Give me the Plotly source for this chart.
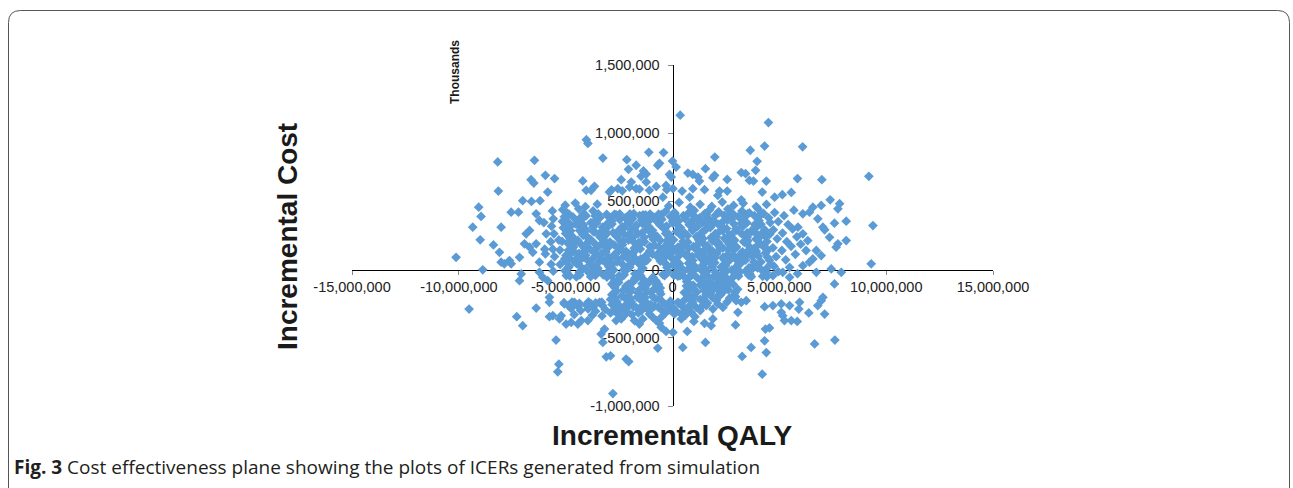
import plotly.graph_objects as go

# ---------------- data ----------------
# each point: (incremental QALY in millions, incremental cost in millions = axis value in thousands / 1000)
outliers_top = [(0.36,1132),(4.49,1078),(-4.03,952),(-3.96,925),(6.09,900),(4.31,906),(3.64,875),(-0.42,858),
    (-1.11,860),(-3.26,818),(-2.14,806),(1.98,825),(-8.18,789),(-6.46,801),(0.0,796),(3.96,794),(-0.61,779),
    (-1.7,765),(-0.69,765),(0.17,752),(1.54,740),(-2.06,735),(-1.36,723),(-1.23,700),(3.89,728),(3.22,711),
    (3.42,703),(0.72,708),(0.95,698),(-0.14,698),(-0.06,678),(1.19,678),(1.97,691),(1.89,674),(-1.47,684),
    (-5.95,691),(9.19,684),(-5.52,667),(-6.62,659),(-6.49,634),(5.85,667),(6.99,659),(2.56,661),(-2.4,659),
    (3.6,654),(3.79,649),(4.39,649),(1.26,649),(-4.2,650),(-1.93,642),(-1.23,642),(-0.3,617),(-3.65,611),
    (-2.01,605),(-0.76,610),(-2.56,593),(-1.7,593),(-0.27,586),(0.02,593),(0.95,593),(1.5,586),(-4.04,581),
    (-3.81,581),(-1.08,581),(-8.15,576),(0.45,576),(2.2,576),(2.56,576),(-2.95,568),(-5.84,568),(4.2,568),
    (5.56,566),(5.14,549),(2.12,544),(4.78,531),(0.8,531),(-0.45,531),(7.38,512),(3.22,512),(-7.01,505),
    (-2.85,585),(-2.35,578),(-1.55,590)]

left_wing = [(-9.07,458),(-8.96,390),(-9.35,311),(-9.0,218),(-10.13,90),(-8.88,-2),(-8.38,181),(-8.02,311),
    (-8.1,127),(-8.02,54),(-7.87,42),(-7.63,66),(-7.55,42),(-7.55,421),(-7.21,421),(-7.16,90),(-7.08,-32),
    (-7.16,-81),(-6.85,262),(-6.69,287),(-6.38,409),(-6.23,360),(-5.91,262),(-6.38,189),(-6.23,54),(-6.54,127),
    (-6.93,189),(-6.69,164),(-6.23,-20),(-6.07,-57),(-5.84,-81),(-5.76,-203),(-5.95,115),(-6.6,500),(-6.2,505),
    (-9.52,-289),(-7.29,-345),(-7.01,-411),(-6.38,-282),(-5.76,-240),(-5.76,-345)]

right_wing = [(6.96,470),(7.82,483),(7.74,446),(8.13,355),(9.38,323),(9.3,42),(6.8,372),(7.04,311),(7.12,292),
    (7.58,340),(7.35,237),(7.74,189),(7.66,164),(8.13,213),(6.1,409),(6.41,421),(6.57,458),(5.87,311),(6.1,262),
    (6.33,213),(6.73,140),(6.96,103),(6.57,78),(7.43,5),(7.9,-20),(7.58,-105),(7.04,-203),(6.73,-20),(5.48,17),
    (5.48,-57),(5.16,-20),(6.1,29),(6.41,54),
    (4.7,-264),(5.09,-252),(5.48,-264),(5.09,-313),(5.16,-338),(5.95,-240),(5.91,-289),(6.38,-318),(6.8,-264),
    (7.12,-326),(5.24,-374),(5.56,-374),(5.84,-380),(6.65,-545),(7.6,-517),(4.54,-428),(6.96,-228)]

lower_band = [(-5.45,-517),(-5.32,-693),(-5.37,-749),(-2.79,-909),(-3.1,-639),(-2.9,-632),(-2.17,-656),
    (-2.05,-674),(-3.26,-534),(-3.34,-473),(-3.18,-436),(-5.21,-338),(-5.29,-362),(-4.98,-399),(-4.74,-387),
    (-4.43,-399),(-4.27,-374),(-3.96,-374),(-5.6,-338),(-5.06,-252),(-4.59,-240),(-3.81,-252),(-3.42,-240),
    (-2.64,-277),(-2.4,-289),(-2.01,-264),(-1.7,-277),(-1.23,-252),(-1.08,-301),(-0.92,-350),(-2.56,-326),
    (-2.4,-362),(-2.64,-374),(-1.78,-374),(-1.55,-399),(-1.39,-362),(-1.08,-326),(-0.76,-374),(-0.69,-575),
    (0.02,-277),(-0.14,-264),(0.09,-326),(0.41,-326),(0.41,-362),(0.8,-264),(1.11,-277),(0.87,-313),(1.0,-380),
    (1.58,-264),(1.89,-289),(2.36,-277),(2.12,-252),(1.5,-394),(1.81,-411),(1.89,-362),(3.06,-313),(2.95,-406),
    (-0.61,-394),(-0.53,-423),(-0.3,-453),(0.02,-460),(0.69,-453),(0.48,-571),(1.54,-534),(3.26,-637),
    (3.68,-571),(4.2,-767),(4.31,-522),(4.39,-608),(4.35,-436),(3.22,-240),(3.45,-228),(2.98,-228),(4.31,-272),
    (-4.75,-285),(-4.3,-300),(-3.95,-288),(-3.6,-305),(-3.15,-292),(-2.9,-318),(-2.15,-305),(-1.9,-330),
    (-1.45,-300),(-0.55,-290),(-0.35,-320),(-0.85,-270),(-3.3,-340),(-4.6,-330),(-3.75,-335),
    (0.3,-245),(0.6,-290),(1.3,-300),(0.15,-300),
    (-2.75,-300),(-2.25,-335),(-1.6,-318),(-1.2,-285),(-0.15,-295),(0.6,-335),(1.05,-345),(-0.5,-345)]

top_band = [(-5.02,472),(-4.55,488),(-4.08,461),(-3.52,480),(-0.18,466),(0.31,492),(0.83,458),(1.29,479),
    (1.84,463),(2.33,495),(2.86,470),(3.31,486),(3.92,462),(4.40,478)]

left_fill = [(-5.62,430),(-5.58,372),(-5.66,318),(-5.55,262),(-5.70,205),(-5.60,150),(-5.52,96),(-5.68,40),
    (-5.58,-12),(-6.02,345),(-5.98,150)]

right_fill = [(4.78,418),(5.22,395),(5.68,436),(4.95,352),(5.41,330),(4.72,292),(5.15,268),(5.62,298),
    (4.90,226),(5.35,205),(5.82,240),(4.70,160),(5.12,140),(5.55,171),(6.00,186),(4.85,95),(5.30,72),
    (5.75,112),(4.75,25),(4.95,-15),(5.85,-30),(4.70,-45),(6.25,140)]

core_r425 = [(-5.14,439),(-4.94,416),(-4.39,446),(-4.18,408),(-3.72,430),(-3.57,403),(-3.08,405),(-2.65,402),
    (-2.47,408),(-2.01,404),(-1.81,410),(-1.26,401),(-1.05,407),(-0.53,403),(-0.32,427),(0.12,410),(0.78,414),
    (1.02,434),(1.58,405),(1.74,438),(2.16,424),(2.59,444),(2.73,417),(3.25,429),(3.51,409),(4.00,447),(4.16,413)]
core_r400 = [(-5.06,388),(-4.84,406),(-4.29,382),(-4.10,403),(-3.62,393),(-3.47,408),(-2.98,385),(-2.72,405),
    (-2.21,380),(-1.98,407),(-1.54,396),(-1.38,402),(-0.87,384),(-0.65,406),(-0.10,390),(0.09,419),(0.51,395),
    (0.74,414),(1.27,379),(1.51,411),(2.01,398),(2.17,417),(2.60,387),(2.83,409),(3.35,381),(3.60,415),
    (4.08,394),(4.26,412)]
core_r375 = [(-5.15,353),(-4.66,386),(-4.23,372),(-4.05,393),(-3.59,362),(-3.39,382),(-2.84,356),(-2.63,399),
    (-2.11,369),(-1.90,377),(-1.46,360),(-1.28,391),(-0.80,364),(-0.56,384),(0.00,355),(0.16,388),(0.58,374),
    (1.01,394),(1.15,367),(1.67,379),(1.93,359),(2.42,397),(2.58,363),(3.08,389),(3.28,366),(3.83,396),
    (4.04,358),(4.50,380)]
core_r350 = [(-5.03,359),(-4.55,336),(-4.36,370),(-3.82,344),(-3.57,363),(-3.09,331),(-2.90,354),(-2.47,366),
    (-2.03,341),(-1.87,372),(-1.39,335),(-1.10,357),(-0.65,347),(-0.50,368),(0.02,339),(0.27,355),(0.78,329),
    (0.94,362),(1.39,342),(1.61,365),(2.14,333),(2.36,352),(2.77,369),(3.21,338),(3.37,356),(3.85,330),
    (4.04,360),(4.57,345)]
core_r325 = [(-5.11,306),(-4.90,349),(-4.38,319),(-4.17,327),(-3.73,310),(-3.55,341),(-3.07,314),(-2.83,334),
    (-2.27,305),(-2.11,338),(-1.69,324),(-1.26,344),(-1.12,317),(-0.60,329),(-0.34,309),(0.15,347),(0.31,313),
    (0.81,339),(1.01,316),(1.56,346),(1.77,308),(2.23,330),(2.38,303),(2.87,336),(3.30,322),(3.48,343),
    (3.94,312),(4.14,332)]
core_r300 = [(-5.01,295),(-4.79,317),(-4.35,287),(-4.18,308),(-3.70,278),(-3.28,311),(-3.10,303),(-2.54,283),
    (-2.36,314),(-1.93,292),(-1.71,321),(-1.19,299),(-0.93,286),(-0.45,310),(-0.28,318),(0.18,280),(0.38,306),
    (0.93,291),(1.15,313),(1.56,297),(1.81,320),(2.36,284),(2.53,301),(2.99,289),(3.28,316),(3.74,293),
    (3.87,309),(4.37,282)]
core_r275 = [(-5.00,264),(-4.76,284),(-4.20,255),(-4.04,288),(-3.62,274),(-3.19,294),(-3.05,267),(-2.53,279),
    (-2.27,259),(-1.78,297),(-1.62,263),(-1.12,289),(-0.92,266),(-0.37,296),(-0.16,258),(0.30,280),(0.45,253),
    (0.94,286),(1.37,272),(1.55,293),(2.01,262),(2.21,282),(2.76,256),(2.97,299),(3.49,269),(3.70,277),
    (4.14,260),(4.32,291)]
core_r250 = [(-4.91,262),(-4.69,243),(-4.16,253),(-3.94,232),(-3.42,266),(-3.21,240),(-2.78,271),(-2.60,246),
    (-2.05,258),(-1.86,235),(-1.43,269),(-0.99,248),(-0.78,238),(-0.32,264),(-0.16,230),(0.36,256),(0.58,267),
    (1.12,241),(1.33,251),(1.80,234),(2.00,261),(2.43,229),(2.66,255),(3.23,263),(3.45,244),(3.88,270),
    (4.07,236),(4.55,259)]
core_r225 = [(-5.32,217),(-4.80,229),(-4.54,209),(-4.05,247),(-3.89,213),(-3.39,239),(-3.19,216),(-2.64,246),
    (-2.43,208),(-1.97,230),(-1.82,203),(-1.33,236),(-0.90,222),(-0.72,243),(-0.26,212),(-0.06,232),(0.49,206),
    (0.70,249),(1.22,219),(1.43,227),(1.87,210),(2.05,241),(2.53,214),(2.77,234),(3.33,205),(3.49,238),
    (3.91,224),(4.34,244)]
core_r200 = [(-5.17,207),(-4.65,184),(-4.43,214),(-3.98,197),(-3.83,220),(-3.32,189),(-2.92,202),(-2.73,181),
    (-2.29,210),(-2.06,217),(-1.49,192),(-1.31,204),(-0.85,179),(-0.57,213),(-0.11,194),(0.05,218),(0.52,186),
    (0.72,201),(1.26,209),(1.50,183),(2.00,222),(2.16,195),(2.64,188),(2.91,215),(3.38,199),(3.53,211),
    (4.00,180),(4.42,206)]
core_r175 = [(-4.92,196),(-4.71,158),(-4.25,180),(-4.10,153),(-3.61,186),(-3.18,172),(-3.00,193),(-2.54,162),
    (-2.34,182),(-1.79,156),(-1.58,199),(-1.06,169),(-0.85,177),(-0.41,160),(-0.23,191),(0.25,164),(0.49,184),
    (1.05,155),(1.21,188),(1.63,174),(2.06,194),(2.20,167),(2.72,179),(2.98,159),(3.47,197),(3.63,163),
    (4.13,189),(4.33,166)]
core_r150 = [(-4.87,141),(-4.63,165),(-4.13,131),(-3.98,156),(-3.52,162),(-3.13,136),(-2.96,170),(-2.40,147),
    (-2.17,133),(-1.67,159),(-1.51,151),(-1.08,128),(-0.64,166),(-0.45,143),(0.00,161),(0.20,138),(0.74,154),
    (0.99,169),(1.48,140),(1.63,164),(2.09,130),(2.36,158),(2.86,145),(2.99,167),(3.52,135),(3.80,153),
    (4.25,171),(4.44,139)]
core_r125 = [(-5.27,143),(-4.81,112),(-4.61,132),(-4.06,106),(-3.85,149),(-3.33,119),(-3.12,127),(-2.68,110),
    (-2.50,141),(-2.02,114),(-1.78,134),(-1.22,105),(-1.06,138),(-0.64,124),(-0.21,144),(-0.07,117),(0.45,129),
    (0.71,109),(1.20,147),(1.36,113),(1.86,139),(2.06,116),(2.61,146),(2.82,108),(3.28,130),(3.43,103),
    (3.92,136),(4.35,122)]
core_r100 = [(-4.99,104),(-4.84,87),(-4.38,118),(-4.17,92),(-3.64,122),(-3.38,99),(-2.91,83),(-2.71,111),
    (-2.30,94),(-1.87,115),(-1.73,80),(-1.20,107),(-0.94,113),(-0.45,90),(-0.28,102),(0.18,81),(0.39,116),
    (0.92,96),(1.18,109),(1.59,86),(1.80,120),(2.36,89),(2.55,106),(2.96,84),(3.18,112),(3.71,98),(3.93,119),
    (4.44,91)]
core_r75 = [(-5.05,77),(-4.61,60),(-4.43,91),(-3.95,64),(-3.71,84),(-3.15,55),(-2.99,88),(-2.57,74),
    (-2.14,94),(-2.00,67),(-1.48,79),(-1.22,66),(-0.73,97),(-0.57,63),(-0.07,89),(0.13,66),(0.68,96),(0.89,58),
    (1.35,80),(1.50,53),(1.99,86),(2.42,72),(2.60,93),(3.06,62),(3.26,82),(3.81,56),(4.02,99),(4.54,69)]
core_r50 = [(-4.99,60),(-4.49,44),(-4.36,66),(-3.85,36),(-3.46,53),(-3.26,69),(-2.82,39),(-2.59,57),(-2.02,32),
    (-1.82,63),(-1.38,48),(-1.18,71),(-0.40,55),(0.01,35),(0.19,62),(0.75,46),(0.95,67),(1.39,30),(1.81,58),
    (1.98,51),(2.42,37),(2.65,64),(3.18,43),(3.42,70),(3.93,34),(4.14,56),(4.59,40)]
core_r25 = [(-5.26,38),(-4.84,24),(-4.41,44),(-4.27,17),(-3.75,29),(-3.49,9),(-3.00,47),(-2.84,13),(-2.34,39),
    (-2.14,16),(-1.59,46),(-1.42,8),(-0.28,36),(0.15,22),(0.33,43),(0.79,12),(0.99,32),(1.54,6),(1.75,49),
    (2.27,19),(2.48,27),(2.92,10),(3.10,41),(3.58,14),(3.82,34),(4.38,5)]
core_r0 = [(-5.03,-8),(-4.87,14),(-4.36,-19),(-4.08,5),(-3.59,11),(-3.43,-15),(-2.98,20),(-2.75,-3),
    (-2.21,-12),(-2.00,17),(-1.55,-21),(-1.38,9),(-0.26,16),(0.25,-6),(0.41,13),(0.86,-18),(1.09,7),(1.61,-14),
    (1.86,21),(2.36,-1),(2.53,-11),(2.98,18),(3.17,-16),(3.73,4),(3.98,12),(4.39,-20)]
core_rm25 = [(-4.95,-20),(-4.80,-47),(-4.31,-14),(-3.88,-28),(-3.70,-7),(-3.24,-38),(-3.04,-18),(-2.49,-44),
    (-2.28,-1),(-1.76,-31),(-1.55,-23),(-0.45,-36),(-0.21,-16),(0.35,-45),(0.51,-12),(0.93,-26),(1.36,-6),
    (1.50,-33),(2.02,-21),(2.28,-41),(2.77,-3),(2.93,-37),(3.43,-11),(3.63,-34),(4.18,-4),(4.39,-42)]
core_rm50 = [(-4.97,-44),(-4.50,-54),(-4.34,-39),(-3.83,-52),(-3.61,-42),(-3.07,-55),(-2.85,-47),(-2.45,-64),
    (-2.26,-38),(-1.71,-68),(-1.49,-45),(-0.99,-70),(-0.37,-45),(0.07,-43),(0.25,-47),(0.73,-66),(0.90,-41),
    (1.39,-62),(1.63,-46),(2.18,-70),(2.37,-37),(2.81,-58),(3.09,-48),(3.56,-40),(3.69,-52),(4.22,-49),(4.42,-53)]
core_rm75 = [(-2.72,-86),(-2.48,-66),(-1.92,-95),(-1.76,-62),(-1.34,-76),(-0.91,-56),(-0.77,-83),(0.55,-53),
    (0.66,-87),(1.16,-61),(1.36,-84),(1.91,-54),(2.12,-92),(2.58,-70),(2.73,-97)]
core_rm100 = [(-2.79,-112),(-2.52,-94),(-2.06,-107),(-1.83,-88),(-1.35,-118),(-1.12,-97),(-0.66,-109),
    (0.71,-91),(0.97,-114),(1.44,-103),(1.68,-86),(2.13,-119),(2.37,-96),(2.84,-108)]
core_rm125 = [(-2.84,-106),(-2.70,-133),(-2.18,-121),(-1.92,-141),(-1.43,-103),(-1.27,-137),(-0.77,-111),
    (-0.57,-134),(0.65,-120),(0.80,-147),(1.29,-114),(1.72,-128),(1.90,-107),(2.36,-138),(2.56,-118),(3.05,-144)]
core_rm150 = [(-2.61,-157),(-2.24,-142),(-1.97,-163),(-1.55,-148),(-1.23,-169),(-0.84,-139),(-0.60,-160),
    (0.77,-144),(1.13,-166),(1.48,-153),(1.95,-137),(2.20,-161),(2.62,-149),(2.93,-168)]
core_rm175 = [(-2.84,-184),(-2.29,-154),(-2.08,-192),(-1.62,-170),(-1.47,-197),(-0.98,-164),(-0.55,-178),
    (0.55,-168),(0.84,-194),(1.05,-151),(1.57,-181),(1.78,-173),(2.22,-190),(2.40,-159),(2.88,-186)]
core_rm200 = [(-2.70,-207),(-2.38,-195),(-1.97,-213),(-1.66,-201),(-1.30,-209),(-0.93,-198),(-0.62,-214),
    (0.72,-205),(1.02,-196),(1.45,-212),(1.86,-203),(2.12,-193),(2.67,-210),(2.95,-199)]
core_rm225 = [(-5.08,-243),(-4.70,-238),(-4.36,-247),(-3.93,-236),(-3.60,-244),(-3.31,-239),(-2.90,-219),
    (-2.61,-233),(-2.19,-214),(-1.92,-238),(-1.50,-221),(-1.21,-242),(-0.79,-216),(-0.50,-231),(-0.10,-232),
    (0.25,-240),(0.55,-225),(0.95,-236),(1.30,-219),(1.64,-245),(2.05,-226),(2.55,-238)]
core_rm265 = [(-4.88,-262),(-4.42,-270),(-4.05,-258),(-3.70,-272),(-3.28,-263),(-2.83,-255),(-2.47,-268),
    (-2.19,-259),(-1.83,-271),(-1.40,-262),(-1.01,-257),(-0.68,-273),(-0.31,-258),(0.45,-268),(0.96,-256),
    (1.42,-262)]

x_ticks = [-15_000_000, -10_000_000, -5_000_000, 0, 5_000_000, 10_000_000, 15_000_000]
y_ticks = [-1_000_000, -500_000, 0, 500_000, 1_000_000, 1_500_000]

groups = [outliers_top, left_wing, right_wing, lower_band, top_band, left_fill, right_fill,
          core_r425, core_r400, core_r375, core_r350, core_r325, core_r300, core_r275, core_r250,
          core_r225, core_r200, core_r175, core_r150, core_r125, core_r100, core_r75, core_r50,
          core_r25, core_r0, core_rm25, core_rm50, core_rm75, core_rm100, core_rm125, core_rm150,
          core_rm175, core_rm200, core_rm225, core_rm265]
qaly = [p[0] * 1e6 for g in groups for p in g]
cost_thousands = [p[1] * 1000 for g in groups for p in g]

# ---------------- layout helpers (pixel -> paper) ----------------
W, H = 1293, 488
L, R, T, B = 352, 993, 65, 406


def px(x):
    return (x - L) / (R - L)


def py(y):
    return (B - y) / (B - T)


TICK_FONT = dict(family="Liberation Sans, Arial, sans-serif", size=14.5, color="#222222")

fig = go.Figure(go.Scatter(
    x=qaly, y=cost_thousands, mode="markers",
    marker=dict(symbol="diamond", size=7.5, color="#5B9BD5", line=dict(width=0)),
    hoverinfo="skip"))

fig.update_layout(
    width=W, height=H,
    margin=dict(l=L, r=W - R, t=T, b=H - B),
    paper_bgcolor="white", plot_bgcolor="white", showlegend=False,
    xaxis=dict(range=[-15e6, 15e6], tickvals=x_ticks, ticktext=[f"{v:,}" for v in x_ticks],
               showgrid=False, zeroline=False, showline=True, linecolor="black", linewidth=1,
               ticks="outside", ticklen=4, tickcolor="#888888", tickwidth=1,
               anchor="free", position=0.4, tickfont=TICK_FONT, layer="below traces"),
    yaxis=dict(range=[-1_000_000, 1_500_000], tickvals=y_ticks, ticktext=[f"{v:,}" for v in y_ticks],
               showgrid=False, zeroline=False, showline=True, linecolor="black", linewidth=1,
               ticks="outside", ticklen=5, tickcolor="#888888", tickwidth=1,
               anchor="free", position=0.5, tickfont=TICK_FONT, layer="below traces",
               ticklabelstandoff=5),
)

bold_font = dict(family="Liberation Sans, Arial, sans-serif", color="#1a1a1a")
common = dict(xref="paper", yref="paper", showarrow=False)
fig.add_annotation(text="<b>Thousands</b>", x=px(455), y=py(72), xanchor="center", yanchor="middle",
                   textangle=-90, font=dict(size=12, **bold_font), **common)
fig.add_annotation(text="<b>Incremental Cost</b>", x=px(287), y=py(237), xanchor="center", yanchor="middle",
                   textangle=-90, font=dict(size=28, **bold_font), **common)
fig.add_annotation(text="<b>Incremental QALY</b>", x=px(672), y=py(435), xanchor="center", yanchor="middle",
                   font=dict(size=28, **bold_font), **common)
fig.add_annotation(text="<b>Fig. 3</b> Cost effectiveness plane showing the plots of ICERs generated from simulation",
                   x=px(12), y=py(467), xanchor="left", yanchor="middle",
                   font=dict(family="Open Sans, Noto Sans, sans-serif", size=19, color="#231f20"), **common)

# rounded frame around the figure (top corners rounded, bottom runs off the page)
lft, rgt, top, bot, r = 8.5, 1289.5, 10.5, 560, 12
frame = (f"M {px(lft)},{py(bot)} L {px(lft)},{py(top + r)} Q {px(lft)},{py(top)} {px(lft + r)},{py(top)} "
         f"L {px(rgt - r)},{py(top)} Q {px(rgt)},{py(top)} {px(rgt)},{py(top + r)} L {px(rgt)},{py(bot)}")
fig.add_shape(type="path", path=frame, xref="paper", yref="paper", line=dict(color="#555555", width=1))

fig.write_html("out.html", config={"displayModeBar": False},
               post_script="document.body.style.margin='0px';")
